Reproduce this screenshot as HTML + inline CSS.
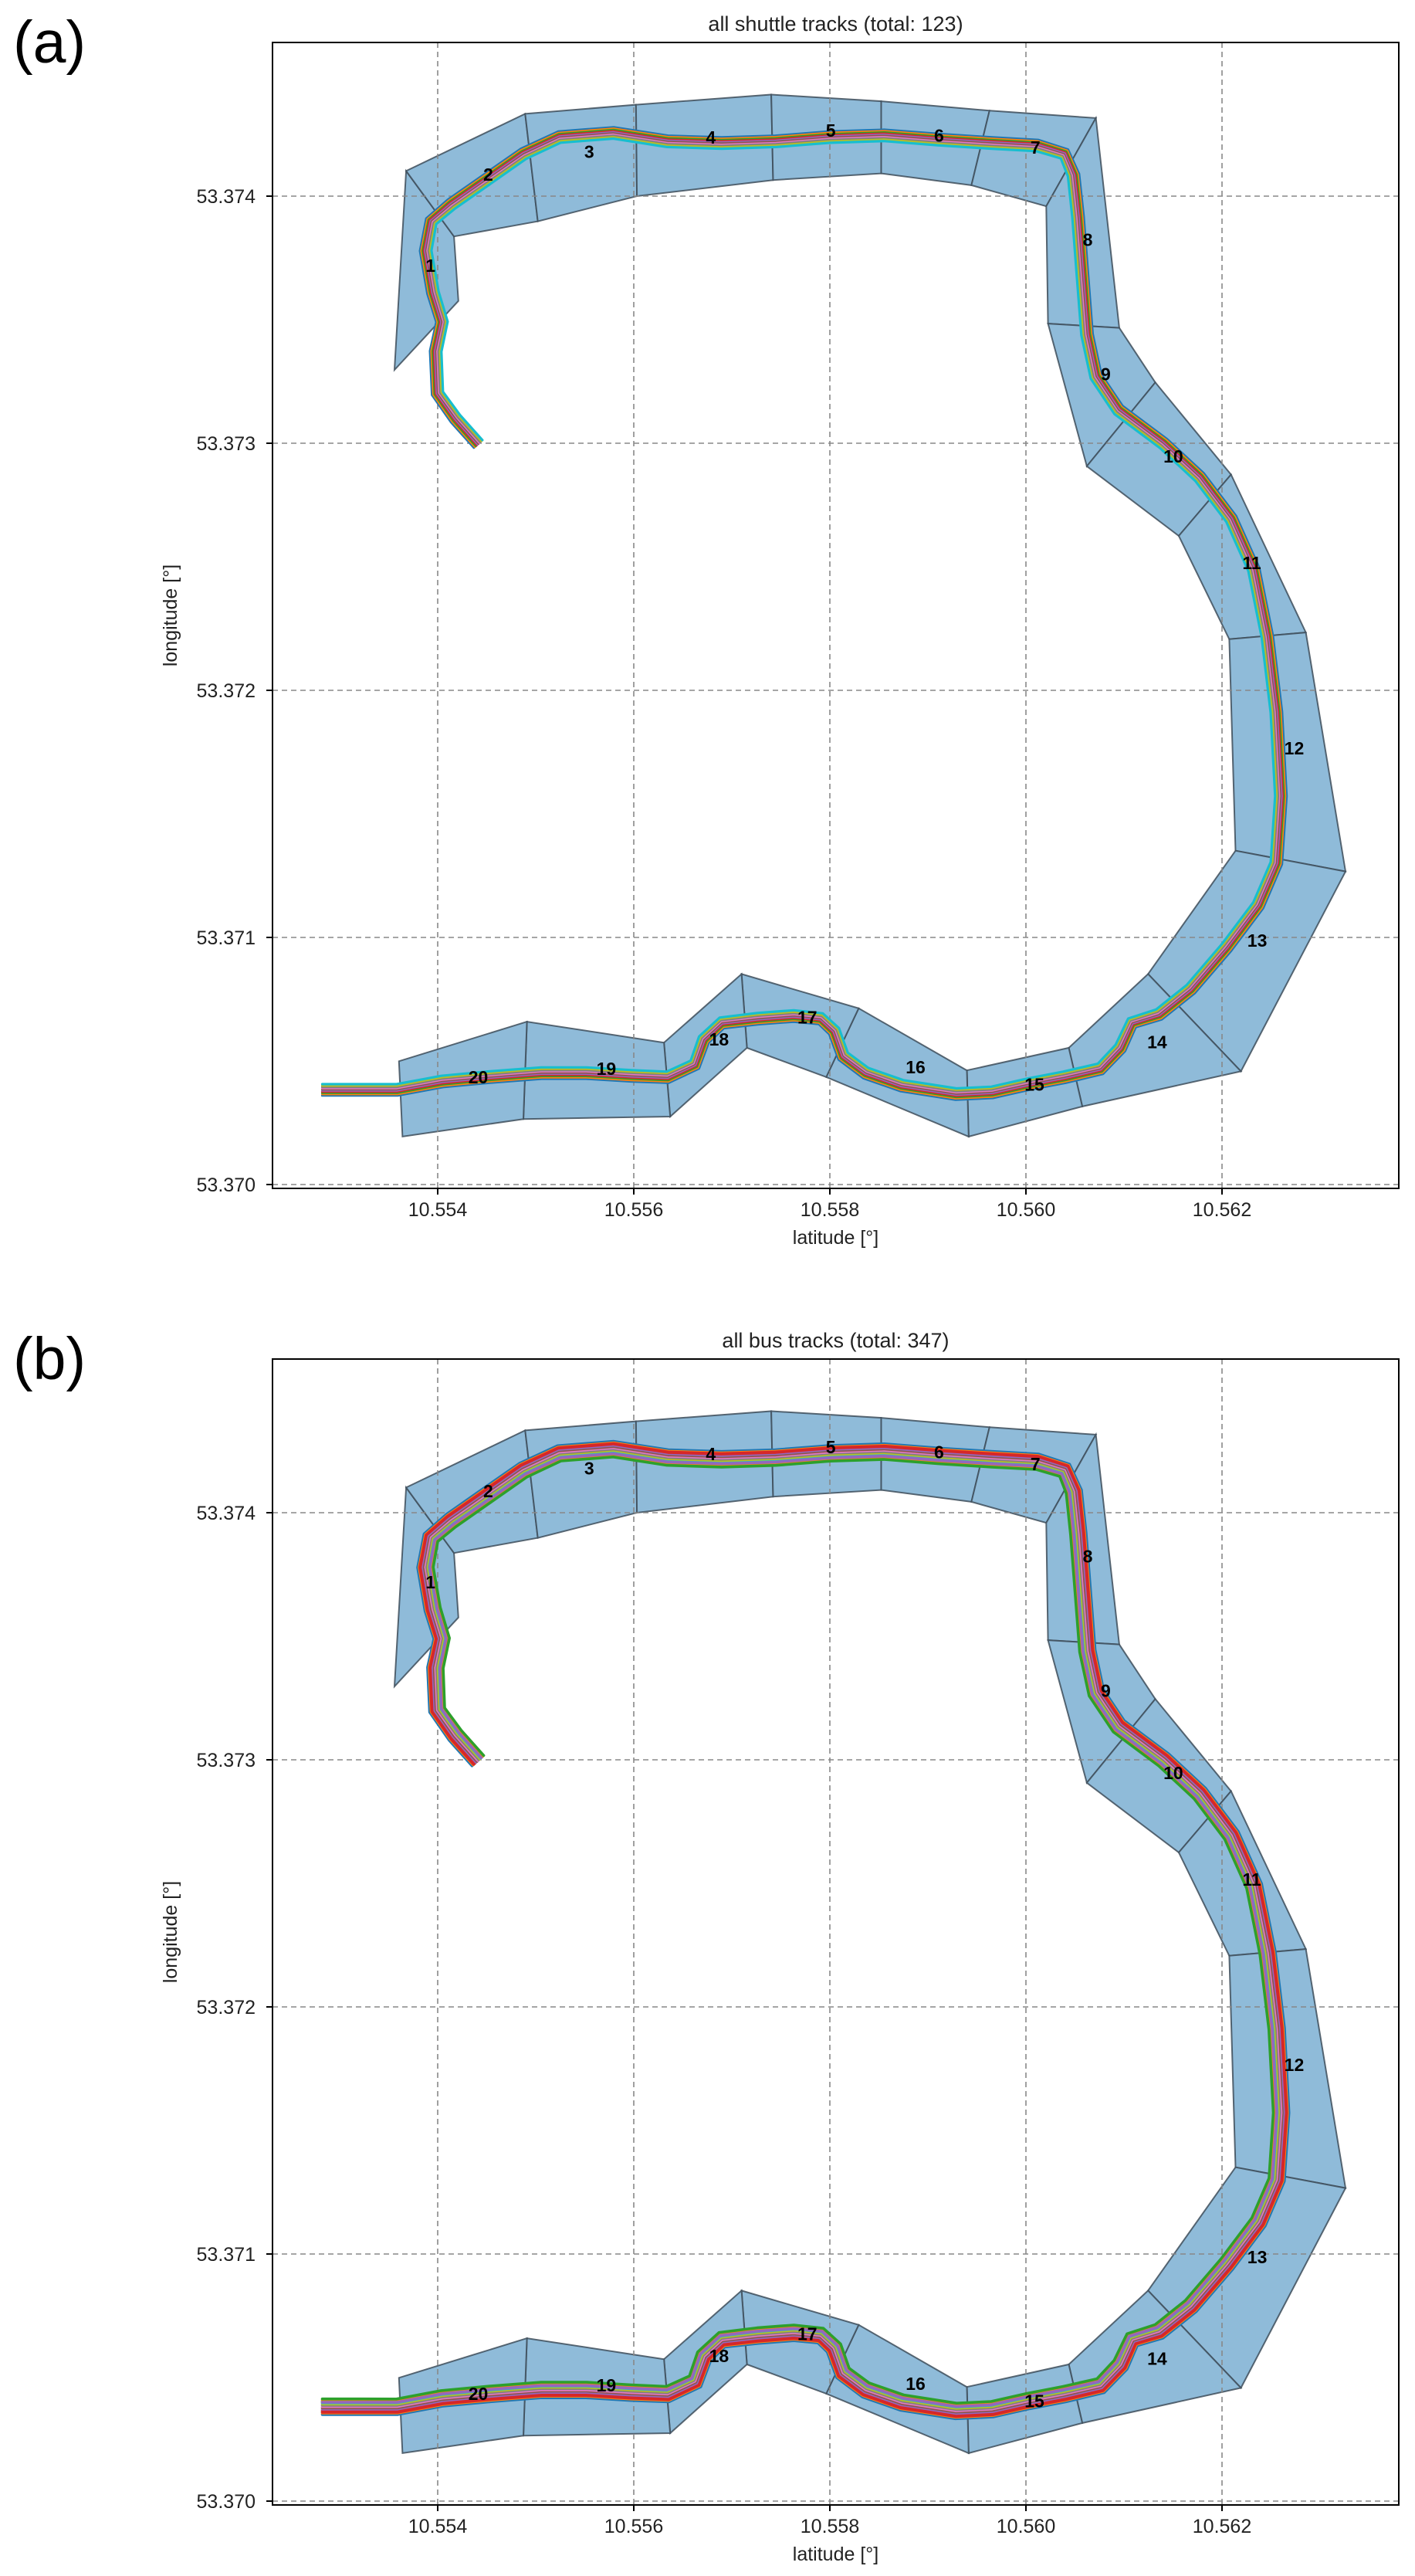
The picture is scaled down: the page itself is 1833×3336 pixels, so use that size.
<!DOCTYPE html>
<html><head><meta charset="utf-8"><style>html,body{margin:0;padding:0;background:#fff}svg{display:block}text{font-family:"Liberation Sans",sans-serif}</style></head>
<body>
<svg id="fig" width="1833" height="3336" viewBox="0 0 1833 3336" xmlns="http://www.w3.org/2000/svg"></svg>
<script>
// data in millidegrees relative to lon 10.554 / lat 53.370
const lonBase = 10.554, latBase = 53.370;
const xTicks = [10.554, 10.556, 10.558, 10.560, 10.562];
const xTickLabels = ["10.554","10.556","10.558","10.560","10.562"];
const yTicks = [53.370, 53.371, 53.372, 53.373, 53.374];
const yTickLabels = ["53.370","53.371","53.372","53.373","53.374"];
const outerU = [-0.441,-0.322,0.892,2.023,3.402,4.524,5.628,6.713,6.952,7.320,8.092,8.855,9.260,8.193,6.575,5.416,3.963,3.154,2.372,0.874,-0.359];
const outerV = [3.297,4.102,4.333,4.370,4.411,4.384,4.346,4.316,3.467,3.246,2.873,2.234,1.267,0.458,0.316,0.194,0.435,0.553,0.275,0.265,0.194];
const innerU = [0.211,0.166,1.021,2.032,3.421,4.524,5.444,6.207,6.225,6.621,7.559,8.074,8.138,7.246,6.437,5.398,4.294,3.099,2.308,0.910,-0.395];
const innerV = [3.576,3.837,3.898,4.000,4.065,4.092,4.044,3.959,3.484,2.907,2.625,2.207,1.351,0.852,0.553,0.462,0.713,0.852,0.574,0.659,0.499];
const labelU = [-0.074,0.515,1.545,2.786,4.009,5.113,6.097,6.630,6.814,7.503,8.303,8.736,8.359,7.338,6.087,4.874,3.770,2.869,1.720,0.414];
const labelV = [3.718,4.088,4.180,4.238,4.265,4.245,4.197,3.823,3.280,2.947,2.516,1.766,0.988,0.577,0.404,0.475,0.676,0.587,0.469,0.435];
const trackU = [0.414,0.184,0,-0.018,0.046,-0.046,-0.120,-0.064,0.138,0.506,0.874,1.241,1.793,2.345,2.897,3.448,4.000,4.552,5.103,5.655,6.115,6.391,6.483,6.529,6.575,6.621,6.713,6.943,7.402,7.770,8.092,8.322,8.460,8.552,8.598,8.552,8.368,8.046,7.678,7.356,7.080,6.961,6.759,6.391,6.023,5.655,5.287,4.736,4.368,4.138,4.046,3.908,3.632,3.264,2.897,2.713,2.621,2.345,1.977,1.517,1.057,0.506,0.046,-0.414,-0.782,-1.177];
const trackV = [2.998,3.100,3.202,3.372,3.491,3.610,3.779,3.898,3.966,4.068,4.170,4.238,4.255,4.221,4.214,4.221,4.238,4.245,4.228,4.214,4.204,4.170,4.085,3.915,3.677,3.440,3.270,3.134,2.998,2.862,2.693,2.489,2.217,1.912,1.572,1.301,1.131,0.961,0.791,0.689,0.655,0.553,0.469,0.435,0.407,0.374,0.367,0.401,0.452,0.520,0.621,0.672,0.683,0.672,0.655,0.587,0.486,0.435,0.441,0.452,0.452,0.435,0.418,0.384,0.384,0.384];
const shuttleOffsets = [-0.060,-0.045,-0.032,-0.020,-0.008,0.004,0.016,0.028,0.042,0.056];
const busOffsets = [-0.085,-0.070,-0.056,-0.043,-0.030,-0.017,-0.004,0.009,0.022,0.035,0.048,0.061,0.074,-0.062,0.040];
const colors = ["#1f77b4","#ff7f0e","#2ca02c","#d62728","#9467bd","#8c564b","#e377c2","#7f7f7f","#bcbd22","#17becf"];
const panels = [
  {title:"all shuttle tracks (total: 123)", tag:"(a)", oy:0, offsets:shuttleOffsets, lw:3.2},
  {title:"all bus tracks (total: 347)", tag:"(b)", oy:1705, offsets:busOffsets, lw:3.6}
];
const NS = "http://www.w3.org/2000/svg";
const svg = document.getElementById("fig");
function mk(tag, attrs, parent){const e=document.createElementNS(NS,tag);for(const k in attrs)e.setAttribute(k,attrs[k]);(parent||svg).appendChild(e);return e;}
const L=353,R=1812,T=55,B=1539;
panels.forEach((p,pi)=>{
  const g = mk("g",{});
  
  
  const xs = lon => 567 + (lon-10.554)*127000;
  const ys = lat => p.oy + 1534 - (lat-53.370)*320000;
  const xu = u => xs(lonBase+u/1000), yv = v => ys(latBase+v/1000);
  const tag = mk("text",{x:17,y:p.oy+81,"font-size":77,fill:"#000"},g); tag.textContent=p.tag;
   
  const tt = mk("text",{x:(L+R)/2,y:p.oy+40,"font-size":27,"text-anchor":"middle",fill:"#222"},g); tt.textContent=p.title;
   
  for(let k=1;k<outerU.length;k++){
    const pts=[[outerU[k-1],outerV[k-1]],[outerU[k],outerV[k]],[innerU[k],innerV[k]],[innerU[k-1],innerV[k-1]]].map(a=>xu(a[0]).toFixed(1)+","+yv(a[1]).toFixed(1)).join(" ");
    const poly = mk("polygon",{points:pts,fill:"#8fbbd9",stroke:"#3e4d5a","stroke-width":2,"stroke-opacity":0.85,"stroke-linejoin":"miter"},g);
    
    
  }
  xTicks.forEach(t=>{const l=mk("line",{x1:xs(t),x2:xs(t),y1:p.oy+T,y2:p.oy+B,stroke:"#888","stroke-width":1.6,"stroke-dasharray":"7,5"},g);
    });
  yTicks.forEach(t=>{const l=mk("line",{x1:L,x2:R,y1:ys(t),y2:ys(t),stroke:"#888","stroke-width":1.6,"stroke-dasharray":"7,5"},g);
    });
  const px = trackU.map(xu), py = trackV.map(yv);
  const nx=[],ny=[];
  for(let i=0;i<px.length;i++){const a=Math.max(0,i-1),b=Math.min(px.length-1,i+1);const dx=px[b]-px[a],dy=py[b]-py[a];const n=Math.hypot(dx,dy)||1;nx.push(-dy/n);ny.push(dx/n);}
  p.offsets.forEach((o,ti)=>{
    const d = px.map((x,i)=>(i?"L":"M")+(x+nx[i]*o*127).toFixed(1)+","+(py[i]+ny[i]*o*127).toFixed(1)).join("");
    const path = mk("path",{d:d,fill:"none",stroke:colors[ti%10],"stroke-width":p.lw,"stroke-linejoin":"round","stroke-linecap":"round"},g);
    
    
  });
  labelU.forEach((u,i)=>{const t=mk("text",{x:xu(u),y:yv(labelV[i])+8,"font-size":23,"font-weight":"bold","text-anchor":"middle",fill:"#000"},g);t.textContent=String(i+1);
    });
  const fr = mk("rect",{x:L,y:p.oy+T,width:R-L,height:B-T,fill:"none",stroke:"#000","stroke-width":2},g);
   
  xTicks.forEach((t,i)=>{mk("line",{x1:xs(t),x2:xs(t),y1:p.oy+B,y2:p.oy+B+8,stroke:"#000","stroke-width":2},g);
    const tx=mk("text",{x:xs(t),y:p.oy+B+36,"font-size":25,"text-anchor":"middle",fill:"#222"},g);tx.textContent=xTickLabels[i];
    });
  yTicks.forEach((t,i)=>{mk("line",{x1:L-8,x2:L,y1:ys(t),y2:ys(t),stroke:"#000","stroke-width":2},g);
    const tx=mk("text",{x:331,y:ys(t)+9,"font-size":25,"text-anchor":"end",fill:"#222"},g);tx.textContent=yTickLabels[i];
    });
  const xl=mk("text",{x:(L+R)/2,y:p.oy+1611,"font-size":25,"text-anchor":"middle",fill:"#222"},g);xl.textContent="latitude [°]";
  
  const yl=mk("text",{x:0,y:0,"font-size":25,"text-anchor":"middle",fill:"#222",transform:"translate(229,"+(p.oy+797)+") rotate(-90)"},g);yl.textContent="longitude [°]";
  
});
</script>
</body></html>
